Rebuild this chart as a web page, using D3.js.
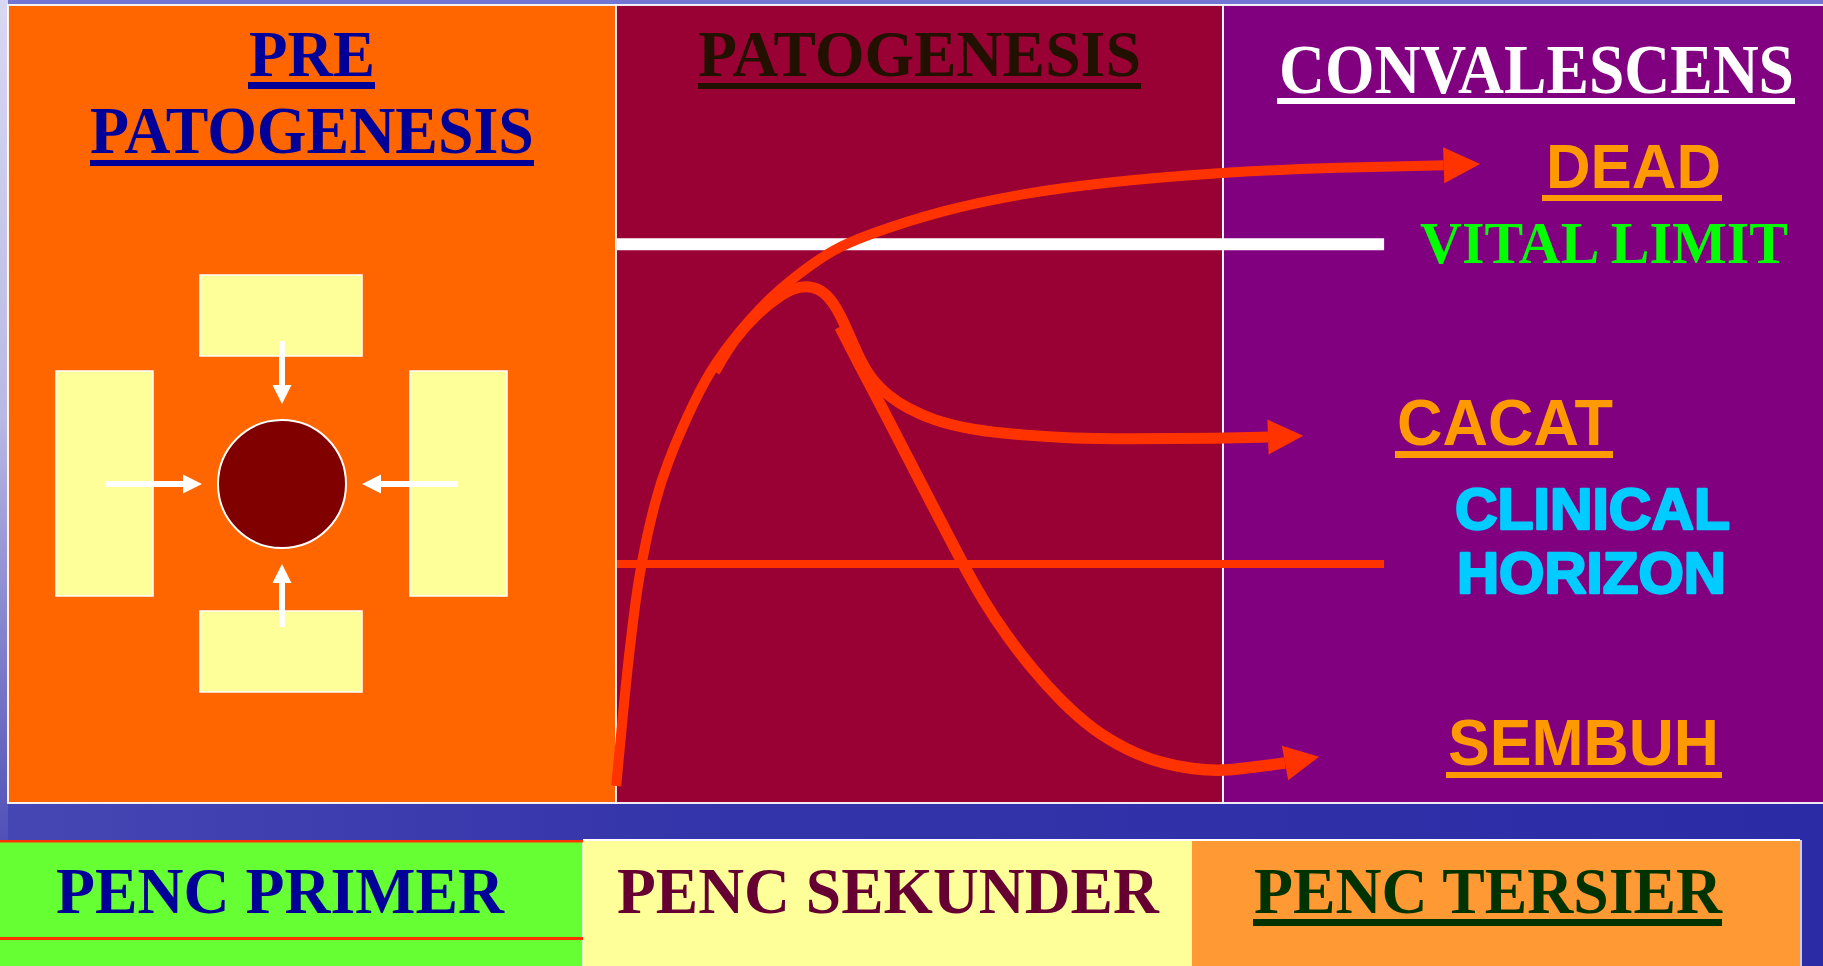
<!DOCTYPE html>
<html><head><meta charset="utf-8">
<script src="https://cdn.jsdelivr.net/npm/d3@7"></script>
<style>html,body{margin:0;padding:0;background:#2d2da6;overflow:hidden}svg{display:block}</style>
</head><body>
<script>
// ---------- data ----------
const phases = ["PRE", "PATOGENESIS", "PATOGENESIS", "CONVALESCENS"];
const outcomes = ["DEAD", "CACAT", "SEMBUH"];
const limitLabels = ["VITAL LIMIT", "CLINICAL", "HORIZON"];
const prevention = ["PENC PRIMER", "PENC SEKUNDER", "PENC TERSIER"];
// thresholds on severity scale (0 = healthy baseline, 100 = death)
const vitalLimit = 87.1;
const clinicalHorizon = 35.7;
const thresholdEnd = 126.5; // time where threshold lines end
// disease course curves: [time, severity]; last point = arrow tip
const deadCurve = [[0.2,0],[1.5,13.8],[3.0,27.2],[4.3,35.9],[6.6,46.0],[8.6,51.9],[11.8,59.3],[15.6,66.9],[20.6,73.3],[25.5,78.6],[31.6,83.4],[35.9,86.2],[40.5,88.3],[53.8,92.6],[67.3,95.3],[80.8,97.1],[100.2,98.7],[117.6,99.4],[136.3,99.8],[142.3,100]];
const cacatCurve = [[16.4,66.6],[19.4,71.7],[23.4,76.0],[27.1,78.9],[30.4,80.5],[33.7,80.1],[35.9,77.8],[37.5,74.9],[39.8,69.6],[41.9,65.6],[45.2,62.5],[48.0,60.8],[52.3,58.8],[58.9,57.2],[67.1,56.4],[75.3,55.9],[83.6,55.8],[100.0,55.9],[107.4,56.1],[113.2,56.3]];
const sembuhCurve = [[37.0,73.8],[40.3,67.5],[44.1,60.5],[48.0,53.1],[52.6,44.4],[57.1,35.9],[60.5,29.9],[64.5,24.0],[68.8,18.6],[73.2,13.8],[78.6,9.0],[84.2,5.8],[89.6,3.7],[95.1,2.7],[100.0,2.4],[105.6,3.1],[110.2,3.7],[115.8,4.7]];

// ---------- drawing ----------
const W = 1823, H = 966;
const svg = d3.select("body").append("svg").attr("width", W).attr("height", H);
const defs = svg.append("defs");
const bg = defs.append("linearGradient").attr("id","bg").attr("x1",0).attr("x2",1).attr("y1",0).attr("y2",0);
bg.append("stop").attr("offset",0).attr("stop-color","#4646b4");
bg.append("stop").attr("offset",0.4).attr("stop-color","#3434aa");
bg.append("stop").attr("offset",1).attr("stop-color","#2b2ba6");
const lg = defs.append("linearGradient").attr("id","leftstrip").attr("x1",0).attr("x2",0).attr("y1",0).attr("y2",1);
lg.append("stop").attr("offset",0).attr("stop-color","#d8d8f2");
lg.append("stop").attr("offset",0.5).attr("stop-color","#b8b8e4");
lg.append("stop").attr("offset",1).attr("stop-color","#5050b8");

svg.append("rect").attr("width",W).attr("height",H).attr("fill","url(#bg)");
svg.append("rect").attr("x",0).attr("y",0).attr("width",W).attr("height",5).attr("fill","#7276d2");
svg.append("rect").attr("x",0).attr("y",0).attr("width",8).attr("height",840).attr("fill","url(#leftstrip)");

// panels
const panels = [
  {x0:8, x1:616, fill:"#ff6600"},
  {x0:616, x1:1223, fill:"#990033"},
  {x0:1223, x1:1830, fill:"#800080"}
];
svg.selectAll("rect.panel").data(panels).join("rect").attr("class","panel")
  .attr("x",d=>d.x0).attr("y",5).attr("width",d=>d.x1-d.x0).attr("height",798)
  .attr("fill",d=>d.fill).attr("stroke","#ffffff").attr("stroke-width",1.8);

// scales
const x = d3.scaleLinear().domain([0,100]).range([615,1223]);
const y = d3.scaleLinear().domain([0,100]).range([786,164]);

// threshold lines
svg.append("line").attr("x1",x(0)+2).attr("x2",x(thresholdEnd)).attr("y1",y(vitalLimit)).attr("y2",y(vitalLimit))
  .attr("stroke","#ffffff").attr("stroke-width",12);
svg.append("line").attr("x1",x(0)+2).attr("x2",x(thresholdEnd)).attr("y1",y(clinicalHorizon)).attr("y2",y(clinicalHorizon))
  .attr("stroke","#ff3300").attr("stroke-width",8);

// curves with arrowheads
const line = d3.line().x(d=>x(d[0])).y(d=>y(d[1])).curve(d3.curveBasis);
function drawCurve(data, sw, half){
  const body = data.slice(0, data.length-1);
  svg.append("path").attr("d", line(body)).attr("fill","none")
    .attr("stroke","#ff3300").attr("stroke-width",sw).attr("stroke-linecap","butt");
  const b = data[data.length-2], t = data[data.length-1];
  const bx = x(b[0]), by = y(b[1]), tx = x(t[0]), ty = y(t[1]);
  const ang = Math.atan2(ty-by, tx-bx);
  const px = -Math.sin(ang)*half, py = Math.cos(ang)*half;
  svg.append("path").attr("d", `M${tx},${ty}L${bx+px},${by+py}L${bx-px},${by-py}Z`).attr("fill","#ff3300");
}
drawCurve(deadCurve, 10, 18);
drawCurve(cacatCurve, 11, 17.5);
drawCurve(sembuhCurve, 11.5, 17.5);

// left diagram: factors around the host
const cx = 282, cy = 484;
const boxes = [
  {x:200,y:275,w:162,h:81},
  {x:200,y:611,w:162,h:81},
  {x:56,y:371,w:97,h:225},
  {x:410,y:371,w:97,h:225}
];
svg.selectAll("rect.box").data(boxes).join("rect").attr("class","box")
  .attr("x",d=>d.x).attr("y",d=>d.y).attr("width",d=>d.w).attr("height",d=>d.h)
  .attr("fill","#ffff99").attr("stroke","#ffffff").attr("stroke-width",1.5);
svg.append("circle").attr("cx",cx).attr("cy",cy).attr("r",64)
  .attr("fill","#800000").attr("stroke","#ffffff").attr("stroke-width",2);
const arrows = [
  {from:[cx,341], to:[cx,404]},
  {from:[cx,627], to:[cx,564]},
  {from:[105,cy], to:[202,cy]},
  {from:[458,cy], to:[362,cy]}
];
arrows.forEach(a=>{
  const ang = Math.atan2(a.to[1]-a.from[1], a.to[0]-a.from[0]);
  const hl = 19, hw = 9.5;
  const bx = a.to[0]-Math.cos(ang)*hl, by = a.to[1]-Math.sin(ang)*hl;
  svg.append("line").attr("x1",a.from[0]).attr("y1",a.from[1]).attr("x2",bx).attr("y2",by)
    .attr("stroke","#ffffff").attr("stroke-width",6);
  const px = -Math.sin(ang)*hw, py = Math.cos(ang)*hw;
  svg.append("path").attr("d",`M${a.to[0]},${a.to[1]}L${bx+px},${by+py}L${bx-px},${by-py}Z`).attr("fill","#ffffff");
});

// bottom prevention boxes
const bottom = [
  {x0:0, x1:583, fill:"#66ff33", color:"#000099"},
  {x0:583, x1:1192, fill:"#ffff99", color:"#660033"},
  {x0:1192, x1:1800, fill:"#ff9933", color:"#003300"}
];
svg.selectAll("rect.bot").data(bottom).join("rect").attr("class","bot")
  .attr("x",d=>d.x0).attr("y",840).attr("width",d=>d.x1-d.x0).attr("height",130).attr("fill",d=>d.fill);
svg.append("line").attr("x1",583).attr("x2",1800).attr("y1",840).attr("y2",840).attr("stroke","#ffffff").attr("stroke-width",2);
svg.append("line").attr("x1",583).attr("x2",583).attr("y1",840).attr("y2",966).attr("stroke","#ffffff").attr("stroke-width",1.5);
svg.append("line").attr("x1",1801).attr("x2",1801).attr("y1",840).attr("y2",966).attr("stroke","#ffffff").attr("stroke-width",1.5);
svg.append("rect").attr("x",0).attr("y",840).attr("width",583).attr("height",2.5).attr("fill","#ff3300");
svg.append("rect").attr("x",0).attr("y",937).attr("width",583).attr("height",3).attr("fill","#ff3300");

// text helper: fit width exactly, keep glyph height of `size`
const SERIF = "'Liberation Serif','Times New Roman',serif";
const SANS = "'Liberation Sans',Arial,sans-serif";
function label(txt, x0, base, width, size, fam, color, ul, heavy){
  const t = svg.append("text").attr("x",0).attr("y",0).attr("font-family",fam)
    .attr("font-weight","bold").attr("font-size",size).attr("fill",color).text(txt);
  const nat = t.node().getComputedTextLength();
  const f2 = size * width / nat;
  t.attr("font-size", f2).attr("transform", `translate(${x0},${base}) scale(1,${size/f2})`);
  if (heavy) t.attr("stroke",color).attr("stroke-width",heavy).attr("stroke-linejoin","round");
  if (ul) svg.append("rect").attr("x",ul[0]).attr("y",ul[2]).attr("width",ul[1]-ul[0]).attr("height",ul[3]).attr("fill",color);
}
label(phases[0], 249, 76, 126, 66, SERIF, "#000099", [248,375,82,7]);
label(phases[1], 90, 153, 444, 68, SERIF, "#000099", [90,534,160,6]);
label(phases[2], 698, 76, 443, 66, SERIF, "#221100", [698,1141,83,6]);
label(phases[3], 1279, 93, 515, 69, SERIF, "#ffffff", [1277,1795,98,6]);
label(outcomes[0], 1546, 188, 175, 63, SANS, "#ff9900", [1542,1722,195,6]);
label(limitLabels[0], 1420, 263, 368, 59, SERIF, "#00ff00");
label(outcomes[1], 1397, 445, 216, 65, SANS, "#ff9900", [1395,1613,451,7]);
label(limitLabels[1], 1455, 529, 275, 57, SANS, "#00ccff", null, 2.5);
label(limitLabels[2], 1457, 593, 269, 57, SANS, "#00ccff", null, 2.5);
label(outcomes[2], 1448, 765, 271, 65, SANS, "#ff9900", [1446,1722,772,6]);
label(prevention[0], 56, 913, 448, 66, SERIF, bottom[0].color);
label(prevention[1], 617, 913, 542, 66, SERIF, bottom[1].color);
label(prevention[2], 1254, 913, 468, 66, SERIF, bottom[2].color, [1253,1722,919,7]);
</script>
</body></html>
